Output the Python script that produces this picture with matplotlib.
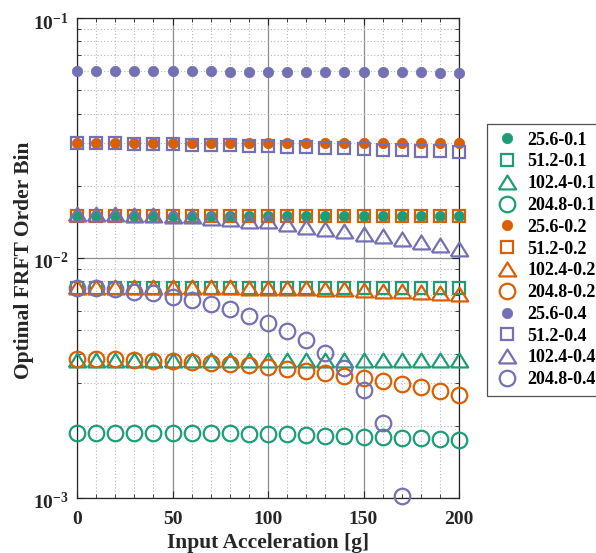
import numpy as np
import matplotlib
matplotlib.use('Agg')
import matplotlib.pyplot as plt
import matplotlib.transforms as mtransforms
from matplotlib.ticker import MultipleLocator, FixedLocator, FuncFormatter, NullFormatter, LogLocator

plt.rcParams['font.family'] = 'Liberation Serif'
plt.rcParams['font.weight'] = 'bold'
plt.rcParams['mathtext.fontset'] = 'custom'
plt.rcParams['mathtext.rm'] = 'Liberation Serif:bold'
plt.rcParams['mathtext.bf'] = 'Liberation Serif:bold'

nan = np.nan

# input acceleration [g]
acc = [0, 10, 20, 30, 40, 50, 60, 70, 80, 90, 100, 110, 120, 130, 140, 150, 160, 170, 180, 190, 200]

# optimal FRFT order bin, one list per (sample rate - bandwidth) case
bin_25_6_01 = [0.0150, 0.0150, 0.0150, 0.0150, 0.0150, 0.0150, 0.0150, 0.0150, 0.0150, 0.0150, 0.0150,
               0.0150, 0.0150, 0.0150, 0.0150, 0.0150, 0.0150, 0.0150, 0.0150, 0.0150, 0.0150]
bin_51_2_01 = [0.0075, 0.0075, 0.0075, 0.0075, 0.0075, 0.0075, 0.0075, 0.0075, 0.0075, 0.0075, 0.0075,
               0.0075, 0.0075, 0.0075, 0.0075, 0.0075, 0.0075, 0.0075, 0.0075, 0.0075, 0.0075]
bin_102_4_01 = [0.00375, 0.00375, 0.00375, 0.00375, 0.00375, 0.00375, 0.00375, 0.00375, 0.00375, 0.00375, 0.00375,
                0.00375, 0.00375, 0.00375, 0.00375, 0.00375, 0.00375, 0.00375, 0.00375, 0.00375, 0.00375]
bin_204_8_01 = [0.00187, 0.00187, 0.00187, 0.00187, 0.00187, 0.00186, 0.00186, 0.00186, 0.00186, 0.00185, 0.00185,
                0.00184, 0.00183, 0.00182, 0.00181, 0.00180, 0.00179, 0.00178, 0.00177, 0.00176, 0.00175]
bin_25_6_02 = [0.0300, 0.0300, 0.0300, 0.0300, 0.0300, 0.0300, 0.0300, 0.0300, 0.0300, 0.0300, 0.0300,
               0.0300, 0.0300, 0.0300, 0.0300, 0.0300, 0.0300, 0.0300, 0.0300, 0.0300, 0.0300]
bin_51_2_02 = [0.0150, 0.0150, 0.0150, 0.0150, 0.0150, 0.0150, 0.0150, 0.0150, 0.0150, 0.0150, 0.0150,
               0.0150, 0.0150, 0.0150, 0.0150, 0.0150, 0.0150, 0.0150, 0.0150, 0.0150, 0.0150]
bin_102_4_02 = [0.00758, 0.00758, 0.00757, 0.00757, 0.00756, 0.00756, 0.00755, 0.00754, 0.00754, 0.00753, 0.00752,
                0.00750, 0.00747, 0.00744, 0.00740, 0.00735, 0.00731, 0.00726, 0.00721, 0.00716, 0.00711]
bin_204_8_02 = [0.00380, 0.00380, 0.00378, 0.00376, 0.00374, 0.00372, 0.00369, 0.00365, 0.00362, 0.00357, 0.00351,
                0.00345, 0.00338, 0.00332, 0.00322, 0.00316, 0.00307, 0.00299, 0.00290, 0.00279, 0.00269]
bin_25_6_04 = [0.0601, 0.0601, 0.0601, 0.0600, 0.0600, 0.0600, 0.0599, 0.0599, 0.0598, 0.0598, 0.0597,
               0.0597, 0.0596, 0.0596, 0.0595, 0.0595, 0.0594, 0.0594, 0.0593, 0.0592, 0.0591]
bin_51_2_04 = [0.0300, 0.0300, 0.0300, 0.0299, 0.0299, 0.0298, 0.0297, 0.0296, 0.0295, 0.0294, 0.0293,
               0.0291, 0.0290, 0.0288, 0.0286, 0.0285, 0.0283, 0.0281, 0.0280, 0.0278, 0.0276]
bin_102_4_04 = [0.0152, 0.0152, 0.0152, 0.0151, 0.0151, 0.0150, 0.0149, 0.0147, 0.0145, 0.0143, 0.0142,
                0.0139, 0.0135, 0.0132, 0.0130, 0.0126, 0.0123, 0.0120, 0.0117, 0.0113, 0.0109]
bin_204_8_04 = [0.00750, 0.00750, 0.00743, 0.00722, 0.00715, 0.00688, 0.00668, 0.00643, 0.00613, 0.00573, 0.00536,
                0.00496, 0.00455, 0.00402, 0.00348, 0.00282, 0.00205, 0.00102, nan, nan, nan]

labels = ['25.6-0.1', '51.2-0.1', '102.4-0.1', '204.8-0.1',
          '25.6-0.2', '51.2-0.2', '102.4-0.2', '204.8-0.2',
          '25.6-0.4', '51.2-0.4', '102.4-0.4', '204.8-0.4']
series = [bin_25_6_01, bin_51_2_01, bin_102_4_01, bin_204_8_01,
          bin_25_6_02, bin_51_2_02, bin_102_4_02, bin_204_8_02,
          bin_25_6_04, bin_51_2_04, bin_102_4_04, bin_204_8_04]

colors = ['#1b9e77', '#d95f02', '#7570b3']
# wide, slightly flat triangle like the matlab one
tri = [(-1, -0.8), (1, -0.8), (0, 0.8), (-1, -0.8)]
marker_styles = [
    dict(marker='o', ms=7.5, fill=True),
    dict(marker='s', ms=8, fill=False),
    dict(marker=tri, ms=12.5, fill=False),
    dict(marker='o', ms=11.2, fill=False),
]

fig = plt.figure(figsize=(5.96, 5.53), dpi=100)
ax = fig.add_axes([77 / 596, 1 - 498 / 553, (459 - 77) / 596, (498 - 18) / 553])

for i, (vals, lab) in enumerate(zip(series, labels)):
    c = colors[i // 4]
    st = marker_styles[i % 4]
    if st['fill']:
        ax.plot(acc, vals, ls='none', marker=st['marker'], ms=st['ms'], mfc=c, mec=c,
                mew=0.5, label=lab, clip_on=False, zorder=3)
    else:
        ax.plot(acc, vals, ls='none', marker=st['marker'], ms=st['ms'], mfc='none', mec=c,
                mew=1.6, label=lab, clip_on=False, zorder=3)

ax.set_yscale('log')
ax.set_xlim(0, 200)
ax.set_ylim(1e-3, 1e-1)

ax.xaxis.set_major_locator(FixedLocator([0, 50, 100, 150, 200]))
ax.xaxis.set_minor_locator(MultipleLocator(10))
ax.yaxis.set_major_locator(LogLocator(base=10, numticks=10))
ax.yaxis.set_minor_locator(LogLocator(base=10, subs=np.arange(2, 10), numticks=20))
ax.yaxis.set_major_formatter(FuncFormatter(lambda v, p: r'$\mathbf{10^{%d}}$' % round(np.log10(v))))
ax.yaxis.set_minor_formatter(NullFormatter())

ax.grid(which='major', color='0.55', ls='-', lw=0.9)
ax.grid(which='minor', color='0.72', ls=(0, (1, 2)), lw=0.8)
ax.set_axisbelow(True)

ax.tick_params(which='both', direction='in', top=True, right=True, colors='0.15')
ax.tick_params(which='major', length=5, labelsize=14, width=0.8)
ax.tick_params(axis='x', which='major', pad=9)
ax.tick_params(axis='y', which='major', pad=6)
ax.tick_params(which='minor', length=3, width=0.6)
# matlab puts the "10" a little below the tick
shift = mtransforms.ScaledTranslation(0, -3 / 100, fig.dpi_scale_trans)
for lab in ax.get_yticklabels():
    lab.set_transform(lab.get_transform() + shift)
for lab in ax.get_xticklabels() + ax.get_yticklabels():
    lab.set_fontweight('bold')
    lab.set_color('0.15')
for sp in ax.spines.values():
    sp.set_color('0.15')
    sp.set_linewidth(0.9)

ax.set_xlabel('Input Acceleration [g]', fontsize=15.5, fontweight='bold', color='0.15', labelpad=4)
ax.set_ylabel('Optimal FRFT Order Bin', fontsize=15.5, fontweight='bold', color='0.15')
ax.yaxis.set_label_coords(-43 / 382, 0.496)

leg = fig.legend(loc='upper left', bbox_to_anchor=(487 / 596, 1 - 124 / 553),
                 prop={'family': 'Liberation Serif', 'weight': 'bold', 'size': 13},
                 frameon=True, fancybox=False, edgecolor='0.15', borderaxespad=0,
                 handlelength=1.43, handletextpad=0.39, labelspacing=0.265, borderpad=0.42,
                 numpoints=1)
leg.get_frame().set_linewidth(0.9)

fig.savefig('out.png', dpi=100)
